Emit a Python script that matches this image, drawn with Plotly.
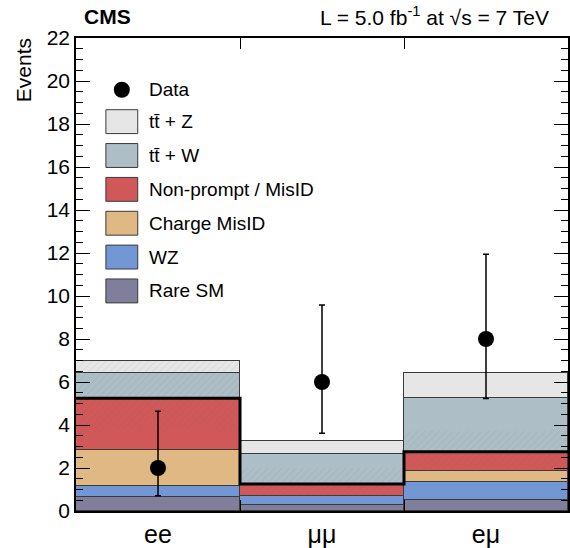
import plotly.graph_objects as go
import numpy as np

# ---- data ----
channels = ["ee", "μμ", "eμ"]
rare_sm = [0.67, 0.26, 0.52]
wz = [0.47, 0.42, 0.81]
charge_misid = [1.70, 0.0, 0.54]
nonprompt = [2.40, 0.58, 0.89]
ttw = [1.19, 1.40, 2.50]
ttz = [0.53, 0.61, 1.16]

bkg_unc_lo = [3.80, 0.68, 1.87]
bkg_unc_hi = [6.96, 1.99, 3.70]

data_obs = [2, 6, 8]
data_err_lo = [0.71, 3.62, 5.23]
data_err_hi = [4.64, 9.58, 11.94]

names = ["Rare SM", "WZ", "Charge MisID", "Non-prompt / MisID", "tt\u0304 + W", "tt\u0304 + Z"]
colors = ["#7f7f9c", "#7396d4", "#e0b883", "#d05858", "#adbec7", "#e6e6e6"]
series = [rare_sm, wz, charge_misid, nonprompt, ttw, ttz]

W, H = 570, 548
L, R, T, B = 76, 570, 38, 513
FONT = "Liberation Sans, Arial, sans-serif"


def px(x):
    return (x - L) / (R - L)


def py(y):
    return (B - y) / (B - T)


fig = go.Figure()

# stacked backgrounds
for name, col, vals in zip(names, colors, series):
    fig.add_trace(go.Bar(
        x=channels, y=vals, name=name, marker=dict(color=col, line=dict(color="#3a3a3a", width=1)),
        width=1.0, showlegend=False, hoverinfo="skip"))

# uncertainty band (hatched) on numeric overlay axis
idx = np.arange(len(channels))
lo = np.array(bkg_unc_lo)
hi = np.array(bkg_unc_hi)
fig.add_trace(go.Bar(
    x=idx, y=hi - lo, base=lo, width=1.0, xaxis="x2", showlegend=False,
    marker=dict(color="rgba(0,0,0,0)", line=dict(width=0),
                pattern=dict(shape="/", fgcolor="rgba(90,90,90,0.4)", bgcolor="rgba(0,0,0,0)",
                             size=5, solidity=0.12, fillmode="overlay")),
    hoverinfo="skip"))

# sum of non-ttV backgrounds as thick step line
bkg_sum = np.array(rare_sm) + np.array(wz) + np.array(charge_misid) + np.array(nonprompt)
step_x = np.concatenate([idx - 0.5, [idx[-1] + 0.5]])
step_y = np.concatenate([bkg_sum, [bkg_sum[-1]]])
fig.add_trace(go.Scatter(
    x=step_x, y=step_y, xaxis="x2", mode="lines", line=dict(color="black", width=3, shape="hv"),
    showlegend=False, hoverinfo="skip"))

# data points with asymmetric errors
obs = np.array(data_obs)
fig.add_trace(go.Scatter(
    x=channels, y=obs, mode="markers", marker=dict(color="black", size=16),
    error_y=dict(type="data", symmetric=False, array=np.array(data_err_hi) - obs,
                 arrayminus=obs - np.array(data_err_lo), color="black", thickness=1.5, width=3),
    showlegend=False, hoverinfo="skip"))

# legend drawn by hand
shapes = []
annotations = []
fig.add_trace(go.Scatter(
    x=[px(122)], y=[py(90)], xaxis="x3", yaxis="y3", mode="markers",
    marker=dict(color="black", size=16), showlegend=False, hoverinfo="skip"))
annotations.append(dict(x=px(147), y=py(90), xref="paper", yref="paper", text="Data",
                        showarrow=False, xanchor="left", yanchor="middle",
                        font=dict(family=FONT, size=19, color="black")))
for i, (name, col) in enumerate(zip(names[::-1], colors[::-1])):
    top = 110 + 34 * i
    shapes.append(dict(type="rect", xref="paper", yref="paper",
                       x0=px(106), x1=px(138), y0=py(top + 24), y1=py(top),
                       fillcolor=col, line=dict(color="#3a3a3a", width=1)))
    annotations.append(dict(x=px(147), y=py(top + 12), xref="paper", yref="paper", text=name,
                            showarrow=False, xanchor="left", yanchor="middle",
                            font=dict(family=FONT, size=19, color="black")))

# header texts
annotations.append(dict(x=px(82), y=py(16), xref="paper", yref="paper", text="<b>CMS</b>",
                        showarrow=False, xanchor="left", yanchor="middle",
                        font=dict(family=FONT, size=21, color="black")))
annotations.append(dict(x=px(553), y=py(16), xref="paper", yref="paper",
                        text="L = 5.0 fb<sup>-1</sup> at √s = 7 TeV",
                        showarrow=False, xanchor="right", yanchor="middle",
                        font=dict(family=FONT, size=21, color="black")))
annotations.append(dict(x=px(23), y=py(36), xref="paper", yref="paper", text="Events",
                        textangle=-90, showarrow=False, xanchor="center", yanchor="top",
                        font=dict(family=FONT, size=21, color="black")))

fig.update_layout(
    width=W, height=H,
    margin=dict(l=L, r=W - R, t=T, b=H - B),
    paper_bgcolor="white", plot_bgcolor="white",
    barmode="stack", bargap=0,
    showlegend=False,
    xaxis=dict(type="category", categoryorder="array", categoryarray=channels,
               range=[-0.5, 2.5], tickson="boundaries", ticks="inside", ticklen=11,
               tickcolor="black", showline=True, linecolor="black", linewidth=1.5,
               mirror="ticks", showgrid=False, zeroline=False,
               tickfont=dict(family=FONT, size=25, color="black")),
    xaxis2=dict(overlaying="x", range=[-0.5, 2.5], visible=False),
    xaxis3=dict(overlaying="x", range=[0, 1], visible=False),
    yaxis3=dict(overlaying="y", range=[0, 1], visible=False),
    yaxis=dict(range=[0, 22], dtick=2, ticks="inside", ticklen=14, tickcolor="black",
               showline=True, linecolor="black", linewidth=1.5, mirror="ticks",
               showgrid=False, zeroline=False,
               minor=dict(dtick=0.5, ticks="inside", ticklen=7, tickcolor="black", showgrid=False),
               tickfont=dict(family=FONT, size=21, color="black")),
    shapes=shapes, annotations=annotations,
)

fig.write_html("out.html")
